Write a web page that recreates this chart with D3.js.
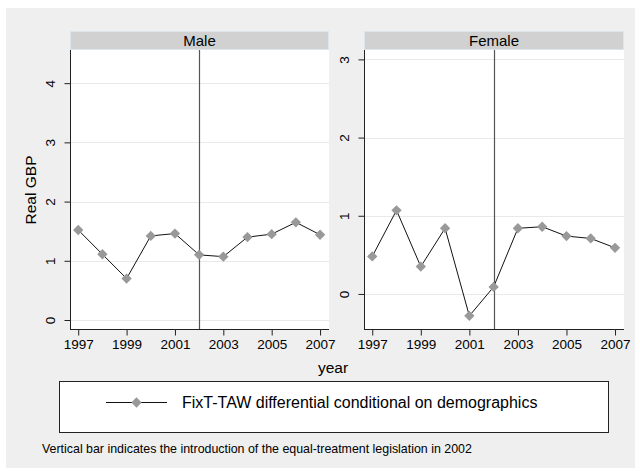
<!DOCTYPE html>
<html>
<head>
<meta charset="utf-8">
<script src="https://cdn.jsdelivr.net/npm/d3@7"></script>
<style>
  body { margin: 0; background: #fff; }
  svg { display: block; font-family: "Liberation Sans", Arial, sans-serif; }
</style>
</head>
<body>
<svg id="chart" width="640" height="471"></svg>
<script>
// Data
const years = [1997, 1998, 1999, 2000, 2001, 2002, 2003, 2004, 2005, 2006, 2007];
const maleValues = [1.52, 1.11, 0.70, 1.42, 1.46, 1.10, 1.07, 1.40, 1.45, 1.65, 1.44];
const femaleValues = [0.48, 1.07, 0.35, 0.84, -0.28, 0.09, 0.84, 0.86, 0.74, 0.71, 0.59];
const xTicks = [1997, 1999, 2001, 2003, 2005, 2007];
const maleYTicks = [0, 1, 2, 3, 4];
const femaleYTicks = [0, 1, 2, 3];
const legislationYear = 2002;

const font = '"Liberation Sans", Arial, sans-serif';
const svg = d3.select("#chart");

// outer background
svg.append("rect")
  .attr("x", 6).attr("y", 8)
  .attr("width", 629).attr("height", 460)
  .attr("fill", "#efefef");

const panels = [
  { title: "Male", left: 70, right: 329, values: maleValues, yTicks: maleYTicks, yDomain: [-0.152, 4.56] },
  { title: "Female", left: 364, right: 624, values: femaleValues, yTicks: femaleYTicks, yDomain: [-0.448, 3.12] }
];
const plotTop = 50, plotBottom = 329, stripTop = 31;

panels.forEach((p) => {
  const x = d3.scaleLinear().domain([1996.66, 2007.37]).range([p.left, p.right]);
  const y = d3.scaleLinear().domain(p.yDomain).range([plotBottom, plotTop]);

  const g = svg.append("g");

  // header strip
  g.append("rect")
    .attr("x", p.left + 0.5).attr("y", stripTop + 0.5)
    .attr("width", p.right - p.left - 1).attr("height", plotTop - stripTop - 1)
    .attr("fill", "#d1d1d1").attr("stroke", "#dbe5ea");
  g.append("text")
    .attr("x", (p.left + p.right) / 2).attr("y", (stripTop + plotTop) / 2 + 5.5)
    .attr("text-anchor", "middle").attr("font-size", 15).attr("fill", "#000")
    .text(p.title);

  // plot area
  g.append("rect")
    .attr("x", p.left).attr("y", plotTop)
    .attr("width", p.right - p.left).attr("height", plotBottom - plotTop)
    .attr("fill", "#fff");

  // grid
  g.selectAll(".grid").data(p.yTicks).enter().append("line")
    .attr("x1", p.left).attr("x2", p.right)
    .attr("y1", (d) => Math.round(y(d)) + 0.5).attr("y2", (d) => Math.round(y(d)) + 0.5)
    .attr("stroke", "#e9e9e9").attr("stroke-width", 1);

  // y axis
  const yAxis = g.append("g")
    .attr("transform", `translate(${p.left + 0.5},0)`)
    .call(d3.axisLeft(y).tickValues(p.yTicks).tickFormat(d3.format("d")).tickSize(6).tickPadding(10).tickSizeOuter(0))
    .attr("font-family", font).attr("font-size", 13.5);
  yAxis.select(".domain").remove();
  yAxis.append("line").attr("y1", plotTop).attr("y2", plotBottom).attr("stroke", "#222");
  yAxis.selectAll(".tick line").attr("stroke", "#222");
  yAxis.selectAll(".tick text")
    .attr("fill", "#000")
    .attr("text-anchor", "middle").attr("x", null)
    .attr("transform", "translate(-20,0) rotate(-90)")
    .attr("dy", "0.36em");

  // x axis
  const xAxis = g.append("g")
    .attr("transform", `translate(0,${plotBottom + 0.5})`)
    .call(d3.axisBottom(x).tickValues(xTicks).tickFormat(d3.format("d")).tickSize(6).tickPadding(4).tickSizeOuter(0))
    .attr("font-family", font).attr("font-size", 13.5);
  xAxis.select(".domain").remove();
  xAxis.append("line").attr("x1", p.left).attr("x2", p.right).attr("stroke", "#222");
  xAxis.selectAll(".tick line").attr("stroke", "#222");
  xAxis.selectAll(".tick text").attr("fill", "#000");

  // vertical bar for legislation
  g.append("line")
    .attr("x1", Math.round(x(legislationYear)) + 0.5).attr("x2", Math.round(x(legislationYear)) + 0.5)
    .attr("y1", plotTop).attr("y2", plotBottom)
    .attr("stroke", "#555").attr("stroke-width", 1.2);

  // series
  const pts = years.map((yr, i) => [yr, p.values[i]]);
  g.append("path")
    .datum(pts)
    .attr("fill", "none").attr("stroke", "#111").attr("stroke-width", 1)
    .attr("d", d3.line().x((d) => x(d[0])).y((d) => y(d[1])));

  g.selectAll(".pt").data(pts).enter().append("path")
    .attr("d", d3.symbol(d3.symbolDiamond2, 68)())
    .attr("transform", (d) => `translate(${x(d[0])},${y(d[1])})`)
    .attr("fill", "#999");
});

// axis titles
svg.append("text")
  .attr("transform", "translate(36,190) rotate(-90)")
  .attr("text-anchor", "middle").attr("font-size", 15.5).attr("fill", "#000")
  .text("Real GBP");
svg.append("text")
  .attr("x", 333).attr("y", 373)
  .attr("text-anchor", "middle").attr("font-size", 15.5).attr("fill", "#000")
  .text("year");

// legend
svg.append("rect")
  .attr("x", 59.5).attr("y", 381.5).attr("width", 549).attr("height", 51)
  .attr("fill", "#fff").attr("stroke", "#222");
svg.append("line")
  .attr("x1", 106).attr("x2", 167).attr("y1", 402.5).attr("y2", 402.5)
  .attr("stroke", "#111");
svg.append("path")
  .attr("d", d3.symbol(d3.symbolDiamond2, 68)())
  .attr("transform", "translate(136.5,402.5)")
  .attr("fill", "#999");
svg.append("text")
  .attr("x", 182).attr("y", 408)
  .attr("font-size", 16).attr("fill", "#000")
  .text("FixT-TAW differential conditional on demographics");

// note
svg.append("text")
  .attr("x", 42).attr("y", 453)
  .attr("font-size", 12.4).attr("fill", "#000")
  .text("Vertical bar indicates the introduction of the equal-treatment legislation in 2002");
</script>
</body>
</html>
